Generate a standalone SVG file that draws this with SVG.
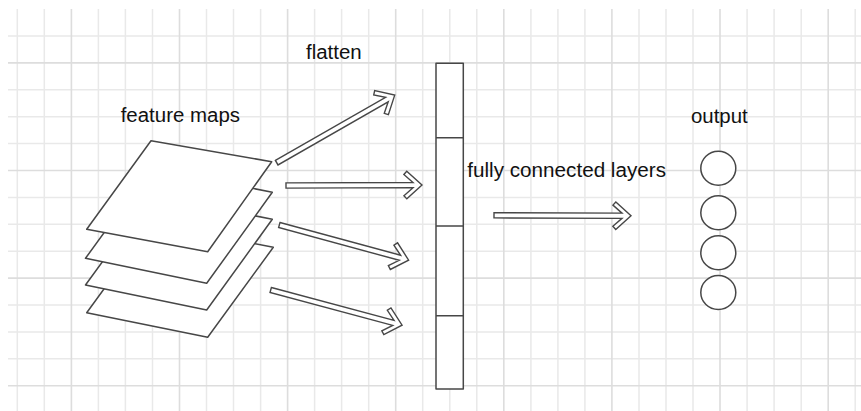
<svg xmlns="http://www.w3.org/2000/svg" xmlns:xlink="http://www.w3.org/1999/xlink" width="861" height="411" viewBox="0 0 861 411">
<style>
.minor{stroke:#e9e9e9;stroke-width:1.5;fill:none}
.major{stroke:#dddddd;stroke-width:1.6;fill:none}
.shape{fill:#ffffff;stroke:#474747;stroke-width:1.5;stroke-linejoin:round}
.arrow{fill:#ffffff;stroke:#474747;stroke-width:1.4;stroke-linejoin:miter}
.lbl{font-family:"Liberation Sans",Arial,sans-serif;font-size:19.5px;fill:#111111}
</style>
<defs>
<path id="arr136" d="M0,-2.6 H127 L117.9,-10.6 L120.8,-13.8 L136,0 L120.8,13.8 L117.9,10.6 L127,2.6 H0 Z"/>
</defs>
<rect width="861" height="411" fill="#ffffff"/>
<g id="grid">
<path class="minor" d="M17.3,9V411M44.3,9V411M98.4,9V411M125.4,9V411M152.5,9V411M206.5,9V411M233.5,9V411M260.6,9V411M314.6,9V411M341.6,9V411M368.7,9V411M422.7,9V411M449.8,9V411M476.8,9V411M530.9,9V411M557.9,9V411M584.9,9V411M639,9V411M666,9V411M693,9V411M747.1,9V411M774.1,9V411M801.2,9V411M855.2,9V411"/>
<path class="minor" d="M8,36H861M8,89.8H861M8,116.7H861M8,143.6H861M8,197.4H861M8,224.3H861M8,251.2H861M8,305H861M8,331.9H861M8,358.8H861"/>
<path class="major" d="M71.4,9V411M179.5,9V411M287.6,9V411M395.7,9V411M503.8,9V411M611.9,9V411M720,9V411M828.2,9V411"/>
<path class="major" d="M8,62.9H861M8,170.5H861M8,278.1H861M8,385.7H861"/>
</g>
<g id="feature-maps">
<polygon class="shape" points="152,223 273.3,247.3 207.7,337.3 86.7,312.7"/>
<polygon class="shape" points="151,195 272.3,219.3 206.7,310 85.5,285"/>
<polygon class="shape" points="151,168 272.3,192.3 206.7,283.3 85.5,258.3"/>
<polygon class="shape" points="151,140.7 271.7,161.7 207.7,251.7 86.7,229.3"/>
</g>
<g id="flatten-vector">
<rect class="shape" x="436" y="63.3" width="27.3" height="325.7"/>
<path class="shape" d="M436,137.7H463.3M436,226H463.3M436,315.7H463.3"/>
</g>
<g id="output-nodes">
<ellipse class="shape" cx="718.3" cy="168.3" rx="17.5" ry="17"/>
<ellipse class="shape" cx="718.3" cy="212.8" rx="17.5" ry="17"/>
<ellipse class="shape" cx="718.3" cy="252.8" rx="17.5" ry="17"/>
<ellipse class="shape" cx="718.3" cy="292.5" rx="17.5" ry="17"/>
</g>
<g id="connectors">
<use xlink:href="#arr136" href="#arr136" class="arrow" transform="translate(276.7,162.7) rotate(-29.8)"/>
<use xlink:href="#arr136" href="#arr136" class="arrow" transform="translate(286,185.5) rotate(-0.2)"/>
<path class="arrow" transform="translate(279.3,225) rotate(15.2)" d="M0,-2.6 H125 L115.9,-10.6 L118.8,-13.8 L134,0 L118.8,13.8 L115.9,10.6 L125,2.6 H0 Z"/>
<use xlink:href="#arr136" href="#arr136" class="arrow" transform="translate(270.7,290) rotate(15)"/>
<path class="arrow" transform="translate(494,215.3) rotate(0.2)" d="M0,-2.6 H128 L118.9,-10.6 L121.8,-13.8 L137,0 L121.8,13.8 L118.9,10.6 L128,2.6 H0 Z"/>
</g>
<g id="labels">
<text class="lbl" x="306" y="58.5" textLength="55.7" lengthAdjust="spacingAndGlyphs">flatten</text>
<text class="lbl" x="120.7" y="122.3" textLength="119.3" lengthAdjust="spacingAndGlyphs">feature maps</text>
<text class="lbl" x="467.3" y="176.7" textLength="198.7" lengthAdjust="spacingAndGlyphs">fully connected layers</text>
<text class="lbl" x="691" y="123" textLength="56.7" lengthAdjust="spacingAndGlyphs">output</text>
</g>
</svg>
